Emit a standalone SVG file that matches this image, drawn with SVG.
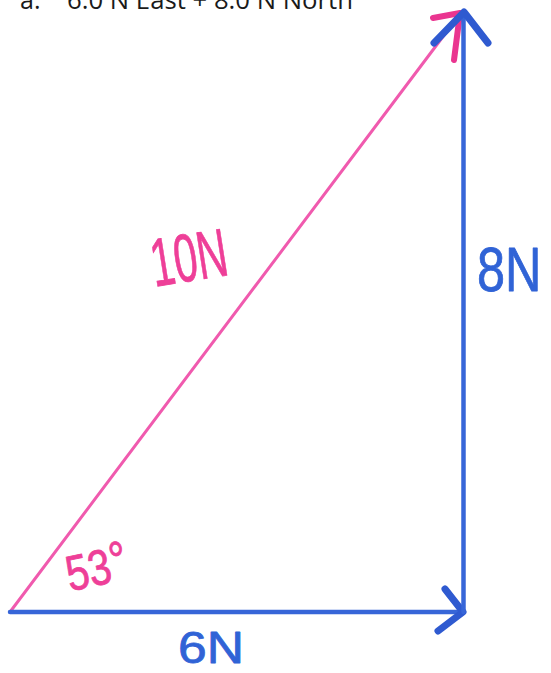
<svg xmlns="http://www.w3.org/2000/svg" width="551" height="673" viewBox="0 0 551 673">
<style>
.hdr{font-family:"Open Sans","Liberation Sans",sans-serif;font-size:25px;fill:#1a1a1a}
.pink{stroke:#f05aae;fill:none;stroke-linecap:round;stroke-linejoin:round}
.pinkhead{stroke:#ea3590;fill:none;stroke-linecap:round;stroke-linejoin:round;stroke-width:6}
.blue{stroke:#3766d8;fill:none;stroke-linecap:round;stroke-linejoin:round;stroke-width:4.5}
.bluehead{stroke:#2f5ad0;fill:none;stroke-linecap:round;stroke-linejoin:round;stroke-width:7}
.lbl{font-family:"Liberation Sans","DejaVu Sans",sans-serif;stroke-linejoin:round}
.lp{fill:#ee3f98;stroke:#ee3f98;stroke-width:0.8}
.lb{fill:#3063d6;stroke:#3063d6;stroke-width:0.8}
</style>
<rect width="551" height="673" fill="#ffffff"/>
<g id="header">
<text class="hdr" x="20" y="9">a.</text>
<text class="hdr" x="67" y="9" textLength="286" lengthAdjust="spacingAndGlyphs">6.0 N East + 8.0 N North</text>
</g>
<g id="connectors">
<line class="pink" x1="10" y1="612" x2="460" y2="14" stroke-width="3"/>
<path class="pinkhead" d="M433,18 L460,13 L454,60"/>
<line class="blue" x1="10" y1="612" x2="463" y2="612"/>
<path class="bluehead" d="M445,589 L463,612 L438,631" stroke-width="6"/>
<line class="blue" x1="463.5" y1="612" x2="463.5" y2="13"/>
<path class="bluehead" d="M434,43 L464,12 L488,43"/>
</g>
<g id="label-10N">
<text class="lbl lp" x="153" y="281" font-size="68" textLength="77" lengthAdjust="spacingAndGlyphs" transform="rotate(-9 190 275)">10N</text>
</g>
<g id="label-8N">
<text class="lbl lb" x="0" y="0" font-size="63" transform="translate(477 291) scale(0.8 1)">8N</text>
</g>
<g id="label-6N">
<text class="lbl lb" x="178" y="663" font-size="44" textLength="66" lengthAdjust="spacingAndGlyphs">6N</text>
</g>
<g id="label-53">
<text class="lbl lp" x="68" y="587" font-size="50" textLength="62" lengthAdjust="spacingAndGlyphs" transform="rotate(-12 90 580)">53<tspan font-size="52" dy="-3">°</tspan></text>
</g>
</svg>
